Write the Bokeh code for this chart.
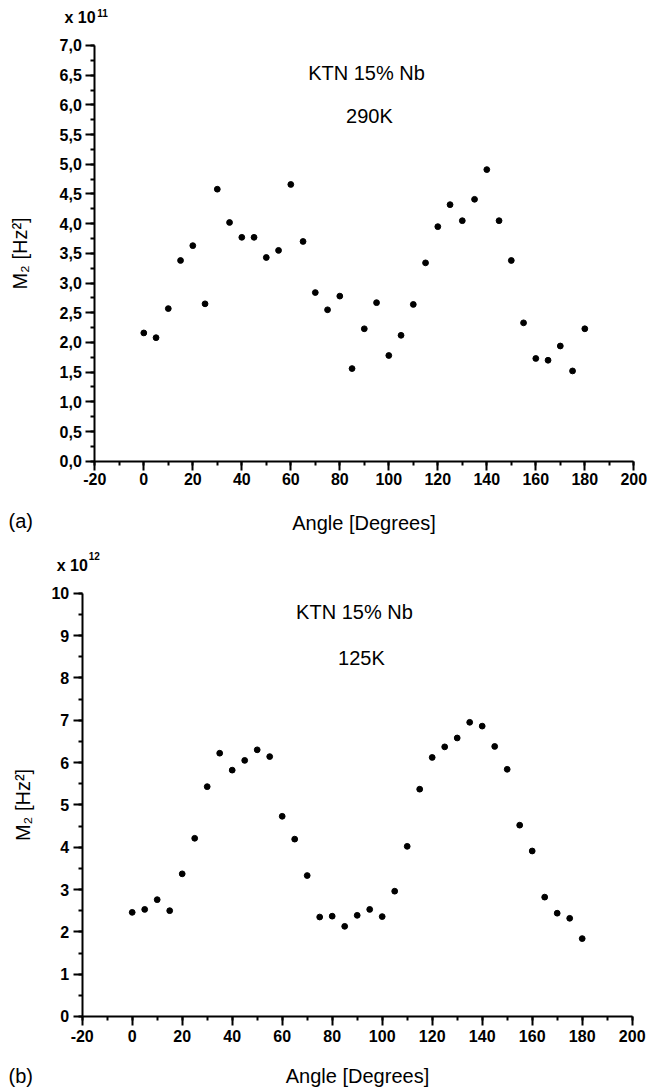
from bokeh.plotting import figure
from bokeh.models import FixedTicker, Label, Range1d
from bokeh.layouts import column
from bokeh.embed import file_html
from bokeh.resources import INLINE

# ---- data ----
angles = list(range(0, 181, 5))
# panel (a): KTN 15% Nb, 290 K, M2 in units of 1e11 Hz^2
m2_290K = [2.16, 2.08, 2.57, 3.38, 3.63, 2.65, 4.58, 4.02, 3.77, 3.77,
           3.43, 3.55, 4.66, 3.70, 2.84, 2.55, 2.78, 1.56, 2.23, 2.67,
           1.78, 2.12, 2.64, 3.34, 3.95, 4.32, 4.05, 4.41, 4.91, 4.05,
           3.38, 2.33, 1.73, 1.70, 1.94, 1.52, 2.23]
# panel (b): KTN 15% Nb, 125 K, M2 in units of 1e12 Hz^2
m2_125K = [2.46, 2.53, 2.76, 2.50, 3.37, 4.21, 5.43, 6.22, 5.82, 6.05,
           6.30, 6.14, 4.73, 4.19, 3.33, 2.35, 2.37, 2.13, 2.39, 2.53,
           2.36, 2.96, 4.02, 5.37, 6.12, 6.37, 6.58, 6.95, 6.86, 6.38,
           5.84, 4.52, 3.91, 2.82, 2.44, 2.32, 1.84]

x_ticks = list(range(-20, 201, 20))
x_labels = [str(t) for t in x_ticks]
x_minor = list(range(-20, 201, 10))
ya_ticks = [i * 0.5 for i in range(15)]
ya_labels = ["%d,%d" % (int(t), int(round((t - int(t)) * 10))) for t in ya_ticks]
ya_minor = [i * 0.25 for i in range(29)]
yb_ticks = list(range(0, 11))
yb_labels = [str(t) for t in yb_ticks]
yb_minor = [i * 0.5 for i in range(21)]

FONT = "Liberation Sans"


def make_panel(height, xr, yr, ymax, yt, yl, ym, title1, title2, t1pos,
               t2pos, mult, mult_pos, sup, sup_pos, tag, tag_pos, yvals,
               xl_std, yl_std, ys, xs):
    p = figure(width=647, height=height, output_backend="svg",
               toolbar_location=None, x_range=Range1d(*xr),
               y_range=Range1d(*yr))
    p.min_border = 0
    p.min_border_left = 0
    p.min_border_right = 0
    p.min_border_top = 0
    p.min_border_bottom = 0
    p.xgrid.visible = False
    p.ygrid.visible = False
    p.outline_line_color = None
    p.background_fill_color = "white"
    p.border_fill_color = "white"

    p.xaxis.fixed_location = 0
    p.yaxis.fixed_location = -20
    p.xaxis.bounds = (-20, 200)
    p.yaxis.bounds = (0, ymax)
    p.xaxis.ticker = FixedTicker(ticks=x_ticks, minor_ticks=x_minor)
    p.yaxis.ticker = FixedTicker(ticks=yt, minor_ticks=ym)
    p.xaxis.major_label_overrides = {t: l for t, l in zip(x_ticks, x_labels)}
    p.yaxis.major_label_overrides = {t: l for t, l in zip(yt, yl)}
    for ax in (p.xaxis, p.yaxis):
        ax.axis_line_width = 2
        ax.axis_line_color = "black"
        ax.major_tick_line_width = 2
        ax.minor_tick_line_width = 2
        ax.major_tick_line_color = "black"
        ax.minor_tick_line_color = "black"
        ax.major_tick_in = 0
        ax.minor_tick_in = 0
        ax.major_tick_out = 9
        ax.minor_tick_out = 4
        ax.major_label_text_font = FONT
        ax.major_label_text_font_style = "bold"
        ax.major_label_text_font_size = "16px"
        ax.major_label_text_color = "black"
        ax.axis_label_text_font = FONT
        ax.axis_label_text_font_style = "normal"
        ax.axis_label_text_font_size = "20px"
        ax.axis_label_text_color = "black"
    p.yaxis.major_label_standoff = ys
    p.xaxis.major_label_standoff = xs
    p.xaxis.axis_label = "Angle [Degrees]"
    p.yaxis.axis_label = "M\u2082 [Hz\u00b2]"
    p.xaxis.axis_label_standoff = xl_std
    p.yaxis.axis_label_standoff = yl_std

    p.scatter(angles, yvals, size=5.8, color="black", marker="circle")

    for txt, (x, y) in ((title1, t1pos), (title2, t2pos)):
        p.add_layout(Label(x=x, y=y, text=txt, text_align="center",
                           text_baseline="middle", text_font=FONT,
                           text_font_size="20px", text_color="black"))
    p.add_layout(Label(x=mult_pos[0], y=mult_pos[1], text=mult,
                       text_align="right", text_baseline="middle",
                       text_font=FONT, text_font_style="bold",
                       text_font_size="16px", text_color="black"))
    p.add_layout(Label(x=sup_pos[0], y=sup_pos[1], text=sup,
                       text_align="left", text_baseline="middle",
                       text_font=FONT, text_font_style="bold",
                       text_font_size="10px", text_color="black"))
    p.add_layout(Label(x=tag_pos[0], y=tag_pos[1], text=tag,
                       text_align="left", text_baseline="middle",
                       text_font=FONT, text_font_size="20px",
                       text_color="black"))
    return p


pa = make_panel(540, (-58.49, 205.59), (-1.3352, 7.7577), 7.0,
                ya_ticks, ya_labels, ya_minor,
                "KTN 15% Nb", "290K", (90.9, 6.54), (92.1, 5.82),
                "x 10", (-19.7, 7.476), "11", (-19.0, 7.55),
                "(a)", (-55.22, -1.015), m2_290K, 23, 25, 4, 3)

pb = make_panel(548, (-52.68, 206.12), (-1.701, 11.245), 10.0,
                yb_ticks, yb_labels, yb_minor,
                "KTN 15% Nb", "125K", (88.9, 9.55), (91.7, 8.48),
                "x 10", (-17.76, 10.65), "12", (-17.36, 10.88),
                "(b)", (-49.48, -1.394), m2_125K, 19, 15, 4, 5)

layout = column(pa, pb)
open("out.html", "w").write(file_html(layout, INLINE))
